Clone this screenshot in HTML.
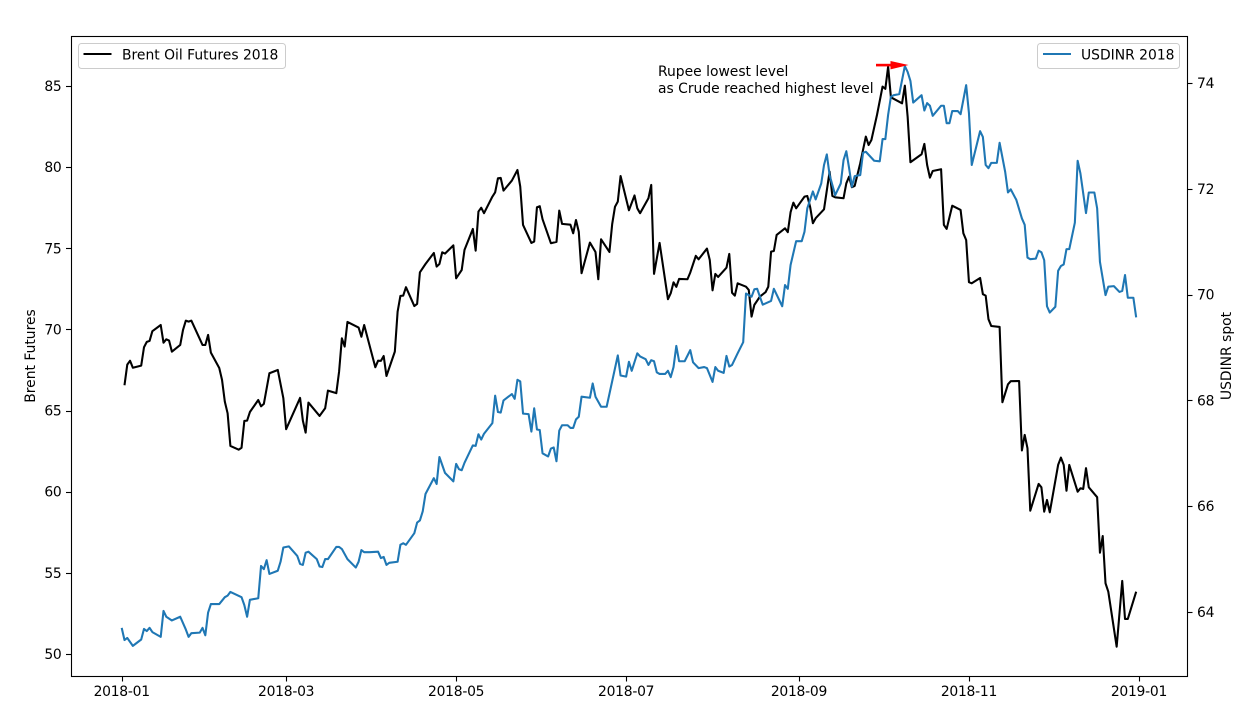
<!DOCTYPE html>
<html>
<head>
<meta charset="utf-8">
<title>Brent Oil Futures vs USDINR 2018</title>
<style>
html,body{margin:0;padding:0;background:#fff;width:1254px;height:725px;overflow:hidden}
svg{display:block}
text{font-family:"DejaVu Sans",sans-serif;font-size:13.89px;fill:#000}
</style>
</head>
<body>
<svg id="chart" xmlns="http://www.w3.org/2000/svg" width="1254" height="725" viewBox="0 0 1254 725">
  <rect x="71" y="36" width="1116" height="640" fill="#fff"/>
  <g id="series"></g>
  <g id="ticks"></g>
  <rect x="71.5" y="36.5" width="1116" height="640" fill="none" stroke="#000" stroke-width="1.1"/>
  <text transform="translate(35,356) rotate(-90)" text-anchor="middle">Brent Futures</text>
  <text transform="translate(1231,356) rotate(-90)" text-anchor="middle">USDINR spot</text>

  <g>
    <rect x="78.5" y="43.5" width="207" height="25" rx="3" fill="#fff" fill-opacity="0.8" stroke="#ccc" stroke-width="1"/>
    <line x1="83.5" y1="54" x2="111.5" y2="54" stroke="#000" stroke-width="2"/>
    <text x="122" y="59.5">Brent Oil Futures 2018</text>
  </g>
  <g>
    <rect x="1037.5" y="43.5" width="142" height="25" rx="3" fill="#fff" fill-opacity="0.8" stroke="#ccc" stroke-width="1"/>
    <line x1="1043" y1="54" x2="1071" y2="54" stroke="#1f77b4" stroke-width="2"/>
    <text x="1081" y="59.5">USDINR 2018</text>
  </g>

  <text x="658" y="76">Rupee lowest level</text>
  <text x="658" y="93">as Crude reached highest level</text>
  <g>
    <rect x="876" y="63.8" width="16" height="2.6" fill="#f00"/>
    <polygon points="890.5,61 908.5,65 890.5,69.4" fill="#f00"/>
  </g>
</svg>
<script>
// Days since 2018-01-01
var brentDays = [1,2,3,4,7,8,9,10,11,14,15,16,17,18,21,22,23,24,25,29,30,31,32,35,36,37,38,39,42,43,44,45,46,49,50,51,53,56,58,59,64,65,66,67,71,73,74,77,78,79,80,81,85,86,87,91,92,93,94,95,98,99,100,101,102,105,106,107,109,112,113,114,115,116,119,120,122,123,126,127,128,129,130,133,134,135,136,137,140,142,143,144,147,148,149,150,151,154,156,157,158,161,162,163,164,165,168,170,171,172,175,176,177,178,179,182,184,185,186,189,190,191,193,196,197,198,199,200,203,204,206,207,210,211,212,213,214,217,218,219,220,221,224,225,226,227,229,231,232,233,234,235,238,239,240,241,242,245,246,247,248,249,252,254,255,256,259,260,261,262,263,265,267,268,269,271,273,274,275,276,280,281,282,283,287,288,289,290,291,294,295,296,298,301,302,303,304,305,308,309,310,311,312,315,316,318,319,322,323,324,325,326,329,330,331,332,333,336,337,338,339,340,343,344,345,346,347,350,351,352,353,354,357,359,360,361,364];
var brentValues = [66.56,67.83,68.07,67.64,67.77,68.9,69.23,69.29,69.89,70.27,69.18,69.39,69.31,68.63,69.04,69.97,70.54,70.48,70.54,69.04,69.04,69.66,68.57,67.62,66.89,65.55,64.83,62.82,62.59,62.71,64.36,64.38,64.91,65.65,65.26,65.41,67.3,67.5,65.76,63.85,65.78,64.38,63.64,65.49,64.67,65.14,66.23,66.07,67.4,69.45,68.94,70.46,70.11,69.55,70.27,67.67,68.07,68.06,68.36,67.13,68.63,71.09,72.06,72.08,72.6,71.44,71.57,73.52,74.03,74.71,73.87,74.03,74.75,74.67,75.18,73.15,73.66,74.9,76.19,74.85,77.26,77.5,77.16,78.18,78.45,79.31,79.33,78.55,79.17,79.82,78.8,76.44,75.33,75.41,77.53,77.59,76.79,75.31,75.39,77.32,76.5,76.45,75.92,76.74,76.02,73.46,75.35,74.77,73.09,75.55,74.77,76.5,77.56,77.87,79.45,77.34,78.25,77.46,77.16,78.08,78.9,73.42,75.33,71.86,72.23,72.9,72.62,73.11,73.09,73.5,74.53,74.32,74.98,74.28,72.41,73.42,73.23,73.8,74.65,72.26,72.08,72.84,72.63,72.43,70.79,71.51,72.02,72.29,72.63,74.79,74.83,75.82,76.23,75.99,77.22,77.81,77.46,78.18,78.22,77.56,76.54,76.85,77.4,79.72,78.22,78.14,78.08,79,79.41,78.76,78.84,80.24,81.88,81.36,81.67,83.21,84.96,84.82,86.19,84.3,83.93,85.02,83.11,80.3,80.79,81.43,80.13,79.35,79.76,79.87,76.44,76.19,77.62,77.36,75.92,75.51,72.91,72.84,73.17,72.17,72.08,70.63,70.21,70.15,65.51,66.62,66.81,66.82,62.54,63.5,62.68,58.83,60.48,60.27,58.77,59.49,58.73,61.65,62.1,61.65,60.06,61.65,60,60.21,60.17,61.45,60.27,59.66,56.24,57.27,54.36,53.84,50.45,54.5,52.16,52.16,53.84];
var inrDays = [0,1,2,4,7,8,9,10,11,14,15,16,18,21,23,24,25,28,29,30,31,32,35,37,38,39,43,44,45,46,49,50,51,52,53,56,57,58,60,63,64,65,66,67,70,71,72,73,74,77,78,79,81,84,85,86,87,89,92,93,94,95,96,99,100,101,102,105,106,107,108,109,112,113,114,116,119,120,121,122,123,126,127,128,129,130,133,134,135,136,137,140,141,142,143,144,146,147,148,149,150,151,153,154,155,156,157,158,160,161,162,163,164,165,168,169,170,172,174,178,179,181,182,183,185,186,188,189,190,191,192,193,195,196,197,198,199,200,202,204,205,207,209,210,212,213,214,216,217,218,219,221,223,224,225,226,227,228,230,233,234,237,238,239,240,242,244,245,246,248,249,251,252,253,254,256,258,259,260,261,262,263,265,266,267,270,272,273,274,275,276,277,279,281,282,283,284,287,288,289,290,291,294,295,296,297,298,300,301,303,304,305,308,309,310,311,312,314,315,317,318,319,321,323,324,325,326,328,329,330,331,332,333,335,336,337,338,339,340,342,343,344,346,347,349,350,351,353,354,356,358,359,360,361,363,364];
var inrValues = [63.7,63.47,63.51,63.36,63.48,63.68,63.64,63.7,63.62,63.53,64.02,63.91,63.84,63.91,63.67,63.53,63.6,63.61,63.7,63.56,63.99,64.15,64.15,64.28,64.31,64.38,64.28,64.13,63.91,64.23,64.26,64.87,64.81,64.98,64.72,64.78,64.95,65.22,65.24,65.06,64.91,64.89,65.12,65.14,65,64.86,64.85,65,65,65.23,65.23,65.19,65,64.84,64.95,65.17,65.13,65.13,65.14,65.02,65.04,64.89,64.93,64.95,65.27,65.3,65.27,65.49,65.69,65.73,65.9,66.23,66.53,66.42,66.93,66.63,66.47,66.8,66.7,66.68,66.82,67.15,67.14,67.36,67.26,67.37,67.57,68.09,67.78,67.77,68,68.12,68.03,68.39,68.36,67.75,67.74,67.41,67.85,67.45,67.44,67,66.94,67.09,67.11,66.85,67.43,67.53,67.53,67.48,67.48,67.64,67.69,68.07,68.05,68.32,68.07,67.88,67.88,68.85,68.47,68.45,68.73,68.56,68.89,68.83,68.78,68.67,68.76,68.74,68.53,68.5,68.5,68.56,68.44,68.63,69.03,68.74,68.74,68.95,68.72,68.61,68.63,68.61,68.35,68.63,68.56,68.52,68.84,68.64,68.67,68.89,69.1,70.02,69.99,69.96,70.1,70.11,69.81,69.88,70.11,69.78,70.18,70.11,70.56,71.01,71.01,71.19,71.63,71.95,71.8,72.1,72.45,72.65,72.26,71.88,72.1,72.54,72.71,72.39,72.04,72.24,72.26,72.68,72.7,72.53,72.52,72.94,72.94,73.4,73.74,73.77,73.79,74.32,74.21,74.04,73.63,73.77,73.48,73.62,73.57,73.38,73.57,73.57,73.24,73.24,73.47,73.47,73.41,73.96,73.43,72.45,73.09,72.98,72.45,72.39,72.49,72.49,72.87,72.32,71.93,71.99,71.79,71.44,71.32,70.7,70.67,70.68,70.83,70.8,70.65,69.78,69.66,69.77,70.45,70.54,70.57,70.86,70.86,71.36,72.53,72.29,71.54,71.93,71.93,71.63,70.62,69.99,70.15,70.16,70.05,70.07,70.37,69.94,69.94,69.57];
var xTickDays = [0,59,120,181,243,304,365];
var xTickLabels = ["2018-01","2018-03","2018-05","2018-07","2018-09","2018-11","2019-01"];
var leftTicks = [50,55,60,65,70,75,80,85];
var rightTicks = [64,66,68,70,72,74];

function xScale(d){ return 121.7 + 2.787 * d; }
function yLeft(v){ return 654 - (v - 50) * 16.23; }
function yRight(v){ return 612 - (v - 64) * 52.9; }

var NS = "http://www.w3.org/2000/svg";
var seriesLayer = document.getElementById("series");
var tickLayer = document.getElementById("ticks");

function points(days, values, yFn){
  var out = [];
  for (var i = 0; i < days.length; i++) {
    out.push(xScale(days[i]).toFixed(2) + "," + yFn(values[i]).toFixed(2));
  }
  return out.join(" ");
}

var brentLine = document.createElementNS(NS, "polyline");
brentLine.setAttribute("points", points(brentDays, brentValues, yLeft));
brentLine.setAttribute("fill", "none");
brentLine.setAttribute("stroke", "#000");
brentLine.setAttribute("stroke-width", "2.08");
brentLine.setAttribute("stroke-linejoin", "round");


seriesLayer.appendChild(brentLine);

var inrLine = document.createElementNS(NS, "polyline");
inrLine.setAttribute("points", points(inrDays, inrValues, yRight));
inrLine.setAttribute("fill", "none");
inrLine.setAttribute("stroke", "#1f77b4");
inrLine.setAttribute("stroke-width", "2.08");
inrLine.setAttribute("stroke-linejoin", "round");


seriesLayer.appendChild(inrLine);

function tickMark(x1, y1, x2, y2){
  var t = document.createElementNS(NS, "line");
  t.setAttribute("x1", x1);
  t.setAttribute("y1", y1);
  t.setAttribute("x2", x2);
  t.setAttribute("y2", y2);
  t.setAttribute("stroke", "#000");
  t.setAttribute("stroke-width", "1.1");
  
  
  tickLayer.appendChild(t);
}

function tickText(x, y, anchor, str){
  var t = document.createElementNS(NS, "text");
  t.setAttribute("x", x);
  t.setAttribute("y", y);
  t.setAttribute("text-anchor", anchor);
  t.setAttribute("letter-spacing", "-0.25");
  
  
  t.textContent = str;
  tickLayer.appendChild(t);
}

xTickDays.forEach(function(d, i){
  var x = Math.round(xScale(d)) + 0.5;
  tickMark(x, 676, x, 681.5);
  tickText(xScale(d), 696, "middle", xTickLabels[i]);
});
leftTicks.forEach(function(v){
  var y = Math.round(yLeft(v)) + 0.5;
  tickMark(66, y, 71, y);
  tickText(61.5, yLeft(v) + 5, "end", String(v));
});
rightTicks.forEach(function(v){
  var y = Math.round(yRight(v)) + 0.5;
  tickMark(1187, y, 1192.5, y);
  tickText(1197, yRight(v) + 5, "start", String(v));
});
</script>
</body>
</html>
